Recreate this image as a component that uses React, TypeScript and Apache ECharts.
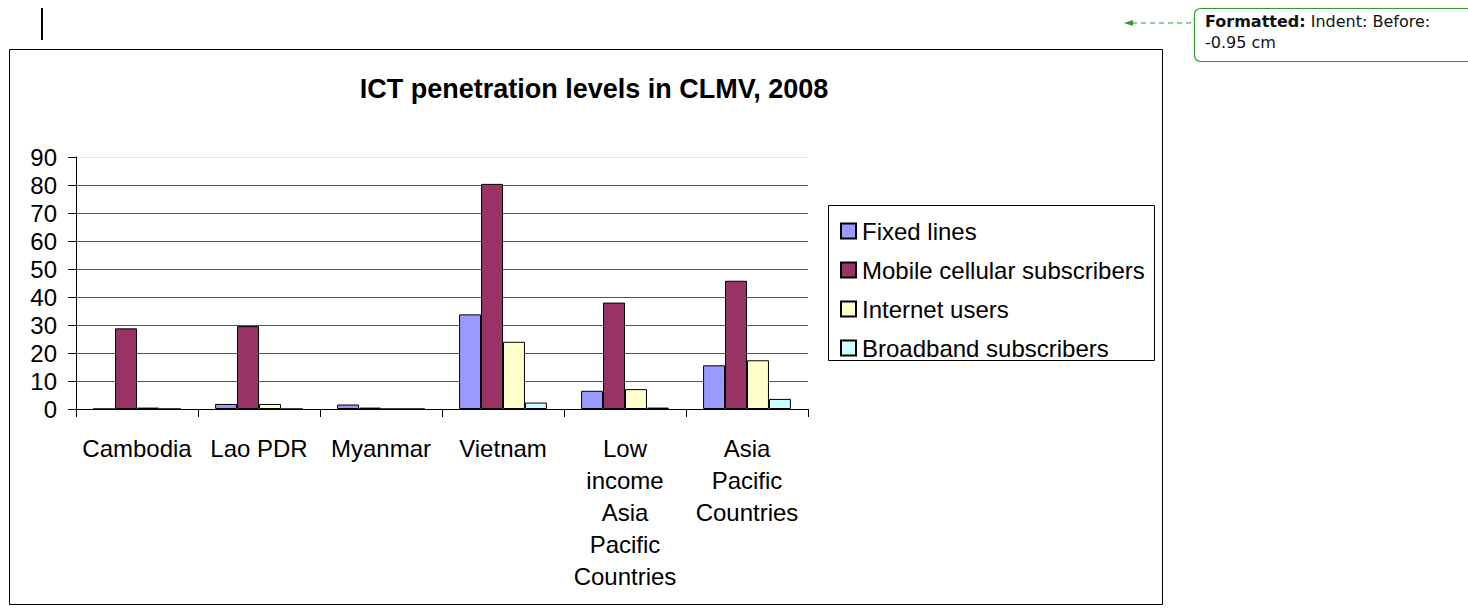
import React, { useEffect, useRef } from "react";
import * as echarts from "echarts";

const categories = [
  "Cambodia",
  "Lao PDR",
  "Myanmar",
  "Vietnam",
  "Low\nincome\nAsia\nPacific\nCountries",
  "Asia\nPacific\nCountries",
];
const seriesNames = [
  "Fixed lines",
  "Mobile cellular subscribers",
  "Internet users",
  "Broadband subscribers",
];
const fixedLines = [0, 1.8, 1.6, 33.8, 6.5, 15.6];
const mobileCellular = [28.8, 29.6, 0.5, 80.4, 38.0, 45.8];
const internetUsers = [0.5, 1.8, 0, 24.0, 7.1, 17.4];
const broadband = [0, 0, 0, 2.3, 0.5, 3.6];
const seriesColors = ["#9999FF", "#993366", "#FFFFCC", "#CCFFFF"];
const yTicks = [0, 10, 20, 30, 40, 50, 60, 70, 80, 90];

const FONT = "'Liberation Sans', Arial, sans-serif";

export default function App() {
  const ref = useRef<HTMLDivElement>(null);
  useEffect(() => {
    document.body.style.margin = "0";
    const chart = echarts.init(ref.current!, null, { renderer: "svg" });
    const data = [fixedLines, mobileCellular, internetUsers, broadband];
    const gridColors = yTicks.map((t, i) => (i === yTicks.length - 1 ? "#e8e8e8" : "#555555"));
    chart.setOption({
      animation: false,
      backgroundColor: "#ffffff",
      title: {
        text: "ICT penetration levels in CLMV, 2008",
        left: 589,
        top: 70,
        textAlign: "center",
        textStyle: { fontFamily: FONT, fontSize: 27, fontWeight: "bold", color: "#000" },
      },
      grid: { left: 76, top: 157, width: 732, height: 252, containLabel: false },
      legend: {
        orient: "vertical",
        left: 835,
        top: 214,
        itemWidth: 15,
        itemHeight: 15,
        itemGap: 15,
        icon: "rect",
        data: seriesNames,
        textStyle: { fontFamily: FONT, fontSize: 24, color: "#000", lineHeight: 24, padding: [0, 0, 0, 1] },
      },
      xAxis: {
        type: "category",
        data: categories,
        axisLine: { lineStyle: { color: "#000", width: 1 } },
        axisTick: { show: true, length: 8, lineStyle: { color: "#000" }, alignWithLabel: false },
        axisLabel: {
          interval: 0,
          fontFamily: FONT,
          fontSize: 24,
          color: "#000",
          lineHeight: 32,
          margin: 23,
        },
      },
      yAxis: {
        type: "value",
        min: 0,
        max: 90,
        interval: 10,
        axisLine: { show: true, lineStyle: { color: "#000", width: 1 } },
        axisTick: { show: true, length: 8, lineStyle: { color: "#000" } },
        axisLabel: { fontFamily: FONT, fontSize: 24, color: "#000", margin: 19 },
        splitLine: { show: true, lineStyle: { color: gridColors, width: 1 } },
      },
      series: seriesNames.map((name, i) => ({
        name,
        type: "bar",
        data: data[i],
        barGap: "0%",
        barCategoryGap: "28%",
        itemStyle: { color: seriesColors[i], borderColor: "#000", borderWidth: 1 },
      })),
      graphic: [
        { type: "rect", shape: { x: 9.5, y: 49.5, width: 1153, height: 555 }, style: { fill: "none", stroke: "#000", lineWidth: 1 }, z: -1 },
        { type: "rect", shape: { x: 828.5, y: 205.5, width: 326, height: 155 }, style: { fill: "none", stroke: "#000", lineWidth: 1 } },
        { type: "rect", shape: { x: 41, y: 8, width: 2, height: 32 }, style: { fill: "#000" } },
        {
          type: "rect",
          shape: { x: 1194.5, y: 8.5, width: 290, height: 53, r: 6 },
          style: { fill: "#fff", stroke: "#339933", lineWidth: 1.2 },
        },
        {
          type: "polyline",
          shape: { points: [[1132, 23], [1190, 23], [1194, 19]] },
          style: { stroke: "#339933", lineWidth: 1.2, lineDash: [5, 4], fill: "none" },
        },
        {
          type: "polygon",
          shape: { points: [[1124, 23], [1133, 20], [1133, 26]] },
          style: { fill: "#339933" },
        },
        {
          type: "text",
          x: 1205,
          y: 11,
          style: {
            text: "{b|Formatted:} Indent: Before:\n-0.95 cm",
            font: "16px 'DejaVu Sans', sans-serif",
            fill: "#111",
            lineHeight: 21,
            rich: { b: { fontWeight: "bold", fontFamily: "'DejaVu Sans', sans-serif", fontSize: 16, fill: "#111", lineHeight: 21 } },
          },
        },
      ],
    });
    return () => chart.dispose();
  }, []);
  return <div ref={ref} style={{ width: 1468, height: 611 }} />;
}
